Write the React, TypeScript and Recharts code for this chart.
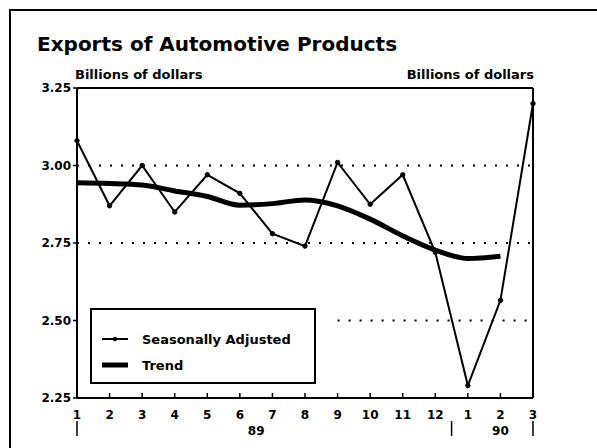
import React from 'react';
import { LineChart, Line, XAxis, YAxis, ReferenceLine } from 'recharts';

const monthLabels = ['1', '2', '3', '4', '5', '6', '7', '8', '9', '10', '11', '12', '1', '2', '3'];
const seasonallyAdjusted = [3.08, 2.87, 3.0, 2.85, 2.97, 2.91, 2.78, 2.74, 3.01, 2.875, 2.97, 2.72, 2.29, 2.565, 3.2];
const trend = [2.944, 2.942, 2.937, 2.918, 2.9, 2.872, 2.877, 2.889, 2.87, 2.827, 2.773, 2.727, 2.7, 2.707, null];
const yTicks = [2.25, 2.5, 2.75, 3.0, 3.25];
const yearLabels: Record<string, string> = { '5.5': '89', '13': '90' };
const yearDividers = [0, 11.5, 14];

const data = monthLabels.map((m, i) => ({
  idx: i,
  month: m,
  sa: seasonallyAdjusted[i],
  trend: trend[i],
}));

const FONT = '"DejaVu Sans", "Liberation Sans", Arial, sans-serif';

const MonthTick = (props: any) => {
  const { x, y, payload } = props;
  return (
    <g>
      <line x1={x} x2={x} y1={y - 5} y2={y} stroke="#000" strokeWidth={1.5} />
      <text x={x} y={y + 21} textAnchor="middle" fontSize={12} fontWeight="bold" fontFamily={FONT} fill="#000">
        {monthLabels[payload.value]}
      </text>
    </g>
  );
};

const YearTick = (props: any) => {
  const { x, y, payload } = props;
  const label = yearLabels[String(payload.value)];
  if (label) {
    return (
      <text x={x} y={y + 23} textAnchor="middle" fontSize={12} fontWeight="bold" fontFamily={FONT} fill="#000">
        {label}
      </text>
    );
  }
  return <line x1={x} x2={x} y1={y + 9} y2={y + 24} stroke="#000" strokeWidth={1.5} />;
};

const App: React.FC = () => {
  return (
    <div style={{ position: 'absolute', left: 0, top: 0, width: 597, height: 448, background: '#fff', overflow: 'hidden', fontFamily: FONT }}>
      {/* outer frame, only top and left edges visible */}
      <div style={{ position: 'absolute', left: 9, top: 9, width: 620, height: 460, borderTop: '2px solid #000', borderLeft: '2px solid #000' }} />
      <div style={{ position: 'absolute', left: 37, top: 32, fontSize: 20, fontWeight: 'bold', color: '#000', whiteSpace: 'nowrap' }}>
        Exports of Automotive Products
      </div>
      <div style={{ position: 'absolute', left: 75, top: 67, fontSize: 13, fontWeight: 'bold', whiteSpace: 'nowrap' }}>
        Billions of dollars
      </div>
      <div style={{ position: 'absolute', right: 597 - 534, top: 67, fontSize: 13, fontWeight: 'bold', whiteSpace: 'nowrap' }}>
        Billions of dollars
      </div>

      <div style={{ position: 'absolute', left: 0, top: 0 }}>
        <LineChart width={597} height={448} data={data} margin={{ top: 88, right: 0, bottom: 0, left: 0 }}>
          <XAxis
            dataKey="idx"
            type="number"
            domain={[0, 14]}
            ticks={monthLabels.map((_, i) => i)}
            tick={<MonthTick />}
            tickSize={0}
            tickMargin={0}
            tickLine={false}
            axisLine={{ stroke: '#000', strokeWidth: 2 }}
            height={14}
            interval={0}
          />
          <XAxis
            xAxisId="year"
            dataKey="idx"
            type="number"
            domain={[0, 14]}
            ticks={[...yearDividers, 5.5, 13]}
            tick={<YearTick />}
            tickSize={0}
            tickMargin={0}
            tickLine={false}
            axisLine={false}
            height={36}
            interval={0}
          />
          <YAxis
            yAxisId="left"
            domain={[2.25, 3.25]}
            ticks={yTicks}
            width={77}
            tickSize={4}
            tickMargin={2}
            tickFormatter={(v: number) => v.toFixed(2)}
            tick={{ fontSize: 12, fontWeight: 'bold', fill: '#000', fontFamily: FONT }}
            tickLine={{ stroke: '#000', strokeWidth: 1.5 }}
            axisLine={{ stroke: '#000', strokeWidth: 2 }}
            interval={0}
          />
          <YAxis
            yAxisId="right"
            orientation="right"
            domain={[2.25, 3.25]}
            ticks={yTicks}
            width={64}
            tickSize={4}
            tickMargin={1}
            tickFormatter={(v: number) => v.toFixed(2)}
            tick={{ fontSize: 12, fontWeight: 'bold', fill: '#000', fontFamily: FONT }}
            tickLine={{ stroke: '#000', strokeWidth: 1.5 }}
            axisLine={{ stroke: '#000', strokeWidth: 2 }}
            interval={0}
          />
          <ReferenceLine yAxisId="left" y={3.25} stroke="#000" strokeWidth={2} />
          <ReferenceLine yAxisId="left" y={3.0} stroke="#000" strokeWidth={2} strokeDasharray="2 9" />
          <ReferenceLine yAxisId="left" y={2.75} stroke="#000" strokeWidth={2} strokeDasharray="2 9" />
          <ReferenceLine
            yAxisId="left"
            segment={[{ x: 8, y: 2.5 }, { x: 14, y: 2.5 }]}
            stroke="#000"
            strokeWidth={2}
            strokeDasharray="2 9"
          />
          <Line
            yAxisId="left"
            dataKey="trend"
            type="monotone"
            stroke="#000"
            strokeWidth={5}
            dot={false}
            connectNulls={false}
            isAnimationActive={false}
          />
          <Line
            yAxisId="left"
            dataKey="sa"
            type="linear"
            stroke="#000"
            strokeWidth={2}
            dot={{ r: 2.2, fill: '#000', stroke: '#000', strokeWidth: 1 }}
            isAnimationActive={false}
          />
        </LineChart>
      </div>

      {/* legend box */}
      <div style={{ position: 'absolute', left: 90, top: 308, width: 226, height: 76, boxSizing: 'border-box', border: '2px solid #000', background: '#fff' }}>
        <svg width={222} height={72} style={{ position: 'absolute', left: 0, top: 0 }}>
          <line x1={10} x2={36} y1={29} y2={29} stroke="#000" strokeWidth={2} />
          <circle cx={23} cy={29} r={2.2} fill="#000" />
          <text x={50} y={33.5} fontSize={13} fontWeight="bold" fontFamily={FONT}>Seasonally Adjusted</text>
          <line x1={10} x2={36} y1={55} y2={55} stroke="#000" strokeWidth={5} />
          <text x={50} y={59.5} fontSize={13} fontWeight="bold" fontFamily={FONT}>Trend</text>
        </svg>
      </div>
    </div>
  );
};

export default App;
